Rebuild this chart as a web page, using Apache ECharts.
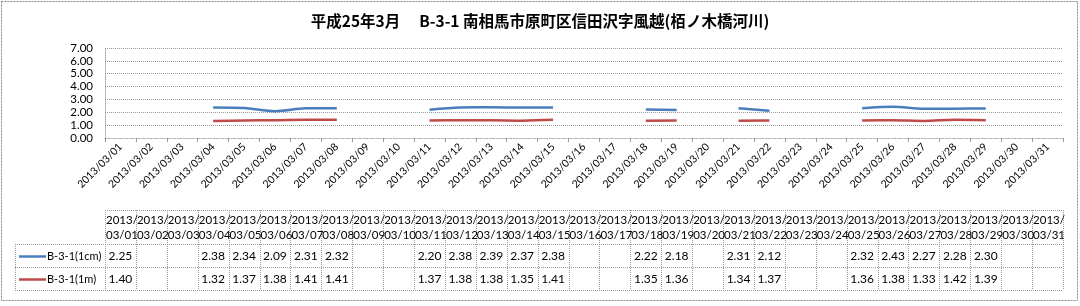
<!DOCTYPE html>
<html>
<head>
<meta charset="utf-8">
<script src="https://cdn.jsdelivr.net/npm/echarts@6/dist/echarts.min.js"></script>
<style>
html,body{margin:0;padding:0;background:#fff;}
#c{width:1080px;height:306px;}
</style>
</head>
<body>
<div id="c"></div>
<script>
const titleText = '平成25年3月\u3000 B-3-1 南相馬市原町区信田沢字風越(栢ノ木橋河川)';
const categories = ['2013/03/01','2013/03/02','2013/03/03','2013/03/04','2013/03/05','2013/03/06','2013/03/07','2013/03/08','2013/03/09','2013/03/10','2013/03/11','2013/03/12','2013/03/13','2013/03/14','2013/03/15','2013/03/16','2013/03/17','2013/03/18','2013/03/19','2013/03/20','2013/03/21','2013/03/22','2013/03/23','2013/03/24','2013/03/25','2013/03/26','2013/03/27','2013/03/28','2013/03/29','2013/03/30','2013/03/31'];
const seriesNames = ['B-3-1(1cm)','B-3-1(1m)'];
const values1cm = [2.25,null,null,2.38,2.34,2.09,2.31,2.32,null,null,2.20,2.38,2.39,2.37,2.38,null,null,2.22,2.18,null,2.31,2.12,null,null,2.32,2.43,2.27,2.28,2.30,null,null];
const values1m = [1.40,null,null,1.32,1.37,1.38,1.41,1.41,null,null,1.37,1.38,1.38,1.35,1.41,null,null,1.35,1.36,null,1.34,1.37,null,null,1.36,1.38,1.33,1.42,1.39,null,null];
const yMin = 0, yMax = 7, yInterval = 1;
const colors = ['#4A7EBB','#BE4B48'];

const FONT = 'Lato, "Liberation Sans", sans-serif';
const chart = echarts.init(document.getElementById('c'));

const option = {
  animation: false,
  backgroundColor: '#fff',
  title: {
    text: titleText,
    left: 'center',
    top: 8,
    textStyle: {fontSize: 15.5, fontWeight: 'bold', color: '#000', fontFamily: '"Noto Sans CJK JP", sans-serif'}
  },
  grid: {left: 105, right: 17, top: 48, bottom: 168},
  xAxis: {
    type: 'category',
    data: categories,
    boundaryGap: true,
    axisLine: {show: true, lineStyle: {color: '#bbb', width: 1, type: 'dashed'}},
    axisTick: {show: true, length: 4, lineStyle: {color: '#999'}},
    axisLabel: {rotate: 45, interval: 0, margin: 7, fontSize: 10.5, color: '#000', fontFamily: FONT},
    splitLine: {show: false}
  },
  yAxis: {
    type: 'value',
    min: yMin, max: yMax, interval: yInterval,
    axisLine: {show: true, lineStyle: {color: '#aaa', type: 'dotted'}},
    axisTick: {show: false},
    axisLabel: {fontSize: 11.5, color: '#000', margin: 12, fontFamily: FONT, formatter: v => v.toFixed(2)},
    splitLine: {show: true, lineStyle: {color: '#999', type: 'dotted', width: 1}}
  },
  series: [
    {name: seriesNames[0], type: 'line', data: values1cm, symbol: 'none', smooth: 0.3, connectNulls: false,
     lineStyle: {color: colors[0], width: 2.5}, itemStyle: {color: colors[0]}},
    {name: seriesNames[1], type: 'line', data: values1m, symbol: 'none', smooth: 0.3, connectNulls: false,
     lineStyle: {color: colors[1], width: 2.5}, itemStyle: {color: colors[1]}}
  ]
};
chart.setOption(option);

function buildTable() {
  const c0 = chart.convertToPixel({xAxisIndex: 0}, 0);
  const c1 = chart.convertToPixel({xAxisIndex: 0}, 1);
  const w = c1 - c0;
  const n = categories.length;
  const left = c0 - w / 2;
  const right = left + n * w;
  const top = 210, hdrBottom = 244, row1Bottom = 267, row2Bottom = 290;
  const legLeft = 15;
  const gridStyle = {stroke: '#999', lineWidth: 1, lineDash: [1, 1]};
  const els = [];
  const hl = (x1, x2, y) => els.push({type: 'line', silent: true, shape: {x1: x1, y1: Math.round(y) + 0.5, x2: x2, y2: Math.round(y) + 0.5}, style: gridStyle});
  const vl = (x, y1, y2) => els.push({type: 'line', silent: true, shape: {x1: Math.round(x) + 0.5, y1: y1, x2: Math.round(x) + 0.5, y2: y2}, style: gridStyle});
  hl(left, right, top);
  hl(legLeft, right, hdrBottom);
  hl(legLeft, right, row1Bottom);
  hl(legLeft, right, row2Bottom);
  vl(legLeft, hdrBottom, row2Bottom);
  for (let i = 0; i <= n; i++) vl(left + i * w, top, row2Bottom);
  const txt = (x, y, s, align, size) => els.push({type: 'text', silent: true, x: x, y: y,
    style: {text: s, font: (size || 11.5) + 'px ' + FONT, fill: '#000', textAlign: align, textVerticalAlign: 'middle'}});
  categories.forEach((cat, i) => {
    const cl = left + i * w;
    const parts = [cat.slice(0, 5), cat.slice(5)];
    txt(cl + 1, 220, parts[0], 'left', 11.5);
    txt(cl + 1, 235, parts[1], 'left', 11.5);
  });
  const rows = [values1cm, values1m];
  const rowY = [(hdrBottom + row1Bottom) / 2 + 1, (row1Bottom + row2Bottom) / 2 + 1];
  rows.forEach((vals, r) => {
    vals.forEach((v, i) => {
      if (v === null) return;
      txt(left + i * w + w / 2, rowY[r], v.toFixed(2), 'center', 12);
    });
    els.push({type: 'line', silent: true, shape: {x1: 19, y1: rowY[r], x2: 46, y2: rowY[r]}, style: {stroke: colors[r], lineWidth: 2.5}});
    txt(47, rowY[r], seriesNames[r], 'left', 11);
  });
  els.push({type: 'rect', silent: true, shape: {x: 1.5, y: 1.5, width: 1076, height: 299}, style: {fill: null, stroke: '#888', lineWidth: 1, lineDash: [2, 1]}});
  chart.setOption({graphic: {elements: els}});
}
buildTable();
</script>
</body>
</html>
